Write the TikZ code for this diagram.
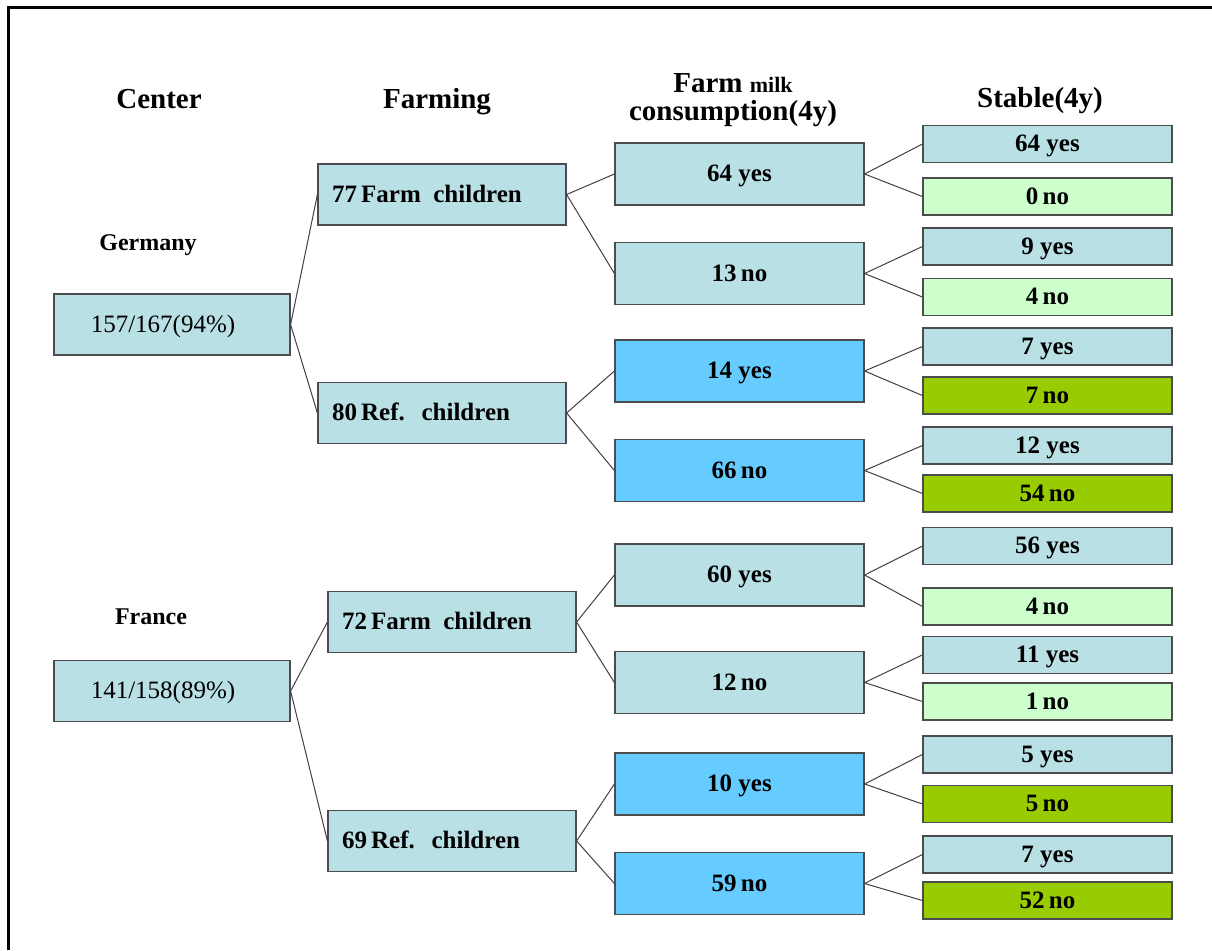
\documentclass[tikz,border=0pt]{standalone}
\usepackage{fontspec}
\setmainfont{Liberation Serif}
\definecolor{aqua}{HTML}{B9E0E5}
\definecolor{sky}{HTML}{66CCFF}
\definecolor{mint}{HTML}{CCFFCC}
\definecolor{grass}{HTML}{99CC00}
\begin{document}
\begin{tikzpicture}[
        x=0.5pt, y=-0.5pt,
        box/.style={rectangle, draw=black!70, line width=0.6pt, inner sep=0pt, align=center, text height=8.8pt, text depth=1.2pt, font=\bfseries\fontsize{12.5}{15}\selectfont},
        rootbox/.style={box, fill=aqua, minimum width=118pt, minimum height=30.5pt, font=\fontsize{12.5}{15}\selectfont},
        farmbox/.style={box, fill=aqua, minimum width=124pt, minimum height=30.5pt, text width=110pt, inner xsep=7pt, align=left},
        milkbox/.style={box, minimum width=124.5pt, minimum height=31pt},
        stablebox/.style={box, minimum width=124.5pt, minimum height=18.5pt},
        head/.style={font=\bfseries\fontsize{14.5}{14}\selectfont, align=center},
        country/.style={font=\bfseries\fontsize{12}{14}\selectfont},
        link/.style={black!75, line width=0.5pt}
    ]
        \useasboundingbox (0,0) rectangle (1212,950);
        % Frame
        \draw[line width=1.5pt] (8,950) -- (8,7) -- (1212,7);

        % Column headers
        \node[head] (hcenter) at (159,99) {Center};
        \node[head] (hfarming) at (437,102) {Farming};
        \node[head] (hmilk) at (733,100) {Farm {\fontsize{11}{14}\selectfont milk}\\consumption(4y)};
        \node[head] (hstable) at (1040,101) {Stable(4y)};

        % Centers
        \node[country] (lde) at (148,245) {Germany};
        \node[country] (lfr) at (151,617) {France};
        \node[rootbox] (de) at (172,324.5) {157/167(94\%)\hspace*{9pt}};
        \node[rootbox] (fr) at (172,691) {141/158(89\%)\hspace*{9pt}};

        % Farming
        \node[farmbox] (defarm) at (442,194.5) {77\,Farm\ \,children};
        \node[farmbox] (deref) at (442,413) {80\,Ref.\ \ children};
        \node[farmbox] (frfarm) at (452,622) {72\,Farm\ \,children};
        \node[farmbox] (frref) at (452,841) {69\,Ref.\ \ children};

        % Farm milk consumption
        \node[milkbox, fill=aqua] (m1) at (739.5,174) {64 yes};
        \node[milkbox, fill=aqua] (m2) at (739.5,273.5) {13\,no};
        \node[milkbox, fill=sky] (m3) at (739.5,371) {14 yes};
        \node[milkbox, fill=sky] (m4) at (739.5,470.5) {66\,no};
        \node[milkbox, fill=aqua] (m5) at (739.5,575) {60 yes};
        \node[milkbox, fill=aqua] (m6) at (739.5,682.5) {12\,no};
        \node[milkbox, fill=sky] (m7) at (739.5,784) {10 yes};
        \node[milkbox, fill=sky] (m8) at (739.5,883.5) {59\,no};

        % Stable
        \node[stablebox, fill=aqua] (s1) at (1047.5,144) {64 yes};
        \node[stablebox, fill=mint] (s2) at (1047.5,196.5) {0\,no};
        \node[stablebox, fill=aqua] (s3) at (1047.5,246.5) {9 yes};
        \node[stablebox, fill=mint] (s4) at (1047.5,297) {4\,no};
        \node[stablebox, fill=aqua] (s5) at (1047.5,346.5) {7 yes};
        \node[stablebox, fill=grass] (s6) at (1047.5,395.5) {7\,no};
        \node[stablebox, fill=aqua] (s7) at (1047.5,445.5) {12 yes};
        \node[stablebox, fill=grass] (s8) at (1047.5,493.5) {54\,no};
        \node[stablebox, fill=aqua] (s9) at (1047.5,546) {56 yes};
        \node[stablebox, fill=mint] (s10) at (1047.5,606.5) {4\,no};
        \node[stablebox, fill=aqua] (s11) at (1047.5,655) {11 yes};
        \node[stablebox, fill=mint] (s12) at (1047.5,701.5) {1\,no};
        \node[stablebox, fill=aqua] (s13) at (1047.5,754.5) {5 yes};
        \node[stablebox, fill=grass] (s14) at (1047.5,804) {5\,no};
        \node[stablebox, fill=aqua] (s15) at (1047.5,854.5) {7 yes};
        \node[stablebox, fill=grass] (s16) at (1047.5,900.5) {52\,no};

        % Branches
        \draw[link] (defarm.west) -- (de.east) -- (deref.west);
        \draw[link] (frfarm.west) -- (fr.east) -- (frref.west);
        \draw[link] (m1.west) -- (defarm.east) -- (m2.west);
        \draw[link] (m3.west) -- (deref.east) -- (m4.west);
        \draw[link] (m5.west) -- (frfarm.east) -- (m6.west);
        \draw[link] (m7.west) -- (frref.east) -- (m8.west);
        \draw[link] (s1.west) -- (m1.east) -- (s2.west);
        \draw[link] (s3.west) -- (m2.east) -- (s4.west);
        \draw[link] (s5.west) -- (m3.east) -- (s6.west);
        \draw[link] (s7.west) -- (m4.east) -- (s8.west);
        \draw[link] (s9.west) -- (m5.east) -- (s10.west);
        \draw[link] (s11.west) -- (m6.east) -- (s12.west);
        \draw[link] (s13.west) -- (m7.east) -- (s14.west);
        \draw[link] (s15.west) -- (m8.east) -- (s16.west);

    \end{tikzpicture}
\end{document}
